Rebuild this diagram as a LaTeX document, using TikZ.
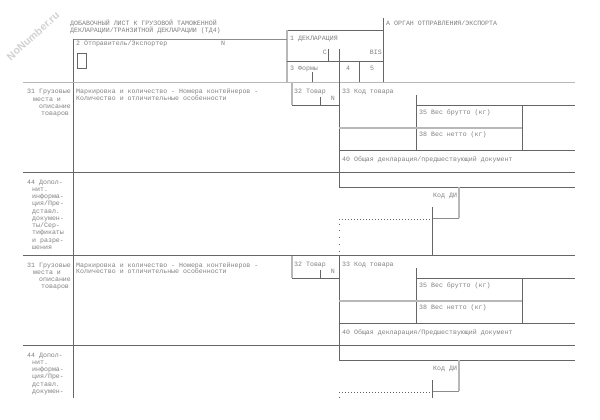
\documentclass[tikz,border=0pt]{standalone}
\usepackage{fontspec}
\setmonofont{Liberation Mono}
\setsansfont{Liberation Sans}
\tikzset{
  ln/.style={draw=black!60, line width=0.5pt},
  lnthick/.style={draw=black!28, line width=1.3pt},
  lnmed/.style={draw=black!45, line width=0.9pt},
  dotline/.style={draw=black!60, line width=0.6pt, dash pattern=on 0.7pt off 2.3pt},
  sparsedot/.style={draw=black!60, line width=0.6pt, dash pattern=on 0.8pt off 6pt},
  lbl/.style={inner sep=0pt, anchor=base west, text=black!50, font=\ttfamily\fontsize{6.6}{7.3}\selectfont},
  lblr/.style={lbl, anchor=base east},
}
\newcommand\myformblock[3]{%
  \draw[lnthick] (292,#1) -- (292,#1+22.5);
  \draw[ln] (292,#1+22.5) -- (339,#1+22.5);
  \draw[ln] (320,#1+14.5) -- (320,#1+22.5);
  \draw[ln] (339,#1) -- (339,#1+104.5) -- (575,#1+104.5);
  \draw[ln] (416,#1+12.5) -- (416,#1+67.5);
  \draw[ln] (416,#1+22.5) -- (575,#1+22.5);
  \draw[lnthick] (339,#1+45.5) -- (522,#1+45.5);
  \draw[ln] (522,#1+22.5) -- (522,#1+67.5);
  \draw[ln] (339,#1+67.5) -- (575,#1+67.5);
  \draw[ln] (23,#1+89.5) -- (575,#1+89.5);
  \draw[lnthick] (459,#1+104.5) -- (459,#1+135.5);
  \draw[lnmed] (432,#1+135.5) -- (459,#1+135.5);
  \draw[ln] (432,#1+124.5) -- (432,#1+173);
  \draw[dotline] (339,#1+136.5) -- (432,#1+136.5);
  \draw[sparsedot] (339,#1+141) -- (339,#1+173);
  \node[lbl] (g31#2) at (27,#1+11.5) {31 Грузовые};
  \node[lbl] (g31a#2) at (33,#1+18.5) {места и};
  \node[lbl] (g31b#2) at (39,#1+25.5) {описание};
  \node[lbl] (g31c#2) at (41,#1+32.5) {товаров};
  \node[lbl] (mk#2) at (76,#1+11.5) {Маркировка и количество - Номера контейнеров -};
  \node[lbl] (mka#2) at (76,#1+18) {Количество и отличительные особенности};
  \node[lbl] (t32#2) at (294,#1+10.8) {32 Товар};
  \node[lblr] (t32n#2) at (335,#1+17.8) {N};
  \node[lbl] (t33#2) at (342,#1+10.8) {33 Код товара};
  \node[lbl] (t35#2) at (419,#1+32.3) {35 Вес брутто (кг)};
  \node[lbl] (t38#2) at (419,#1+54.3) {38 Вес нетто (кг)};
  \node[lbl] (t40#2) at (342,#1+78.5) {#3};
  \node[lbl] (kdi#2) at (433,#1+114.8) {Код ДИ};
  \node[lbl] (t44#2) at (27,#1+101.8) {44 Допол-};
}
\begin{document}
\begin{tikzpicture}[x=1pt,y=-1pt]
\useasboundingbox (0,0) rectangle (600,420);
\node[rotate=42, inner sep=0pt, text=black!18, font=\sffamily\bfseries\fontsize{10.5}{10.5}\selectfont] (wm) at (33,36) {NoNumber.ru};
\begin{scope}
\clip (0,0) rectangle (600,397.5);
% header texts
\node[lbl] (title1) at (70,25.3) {ДОБАВОЧНЫЙ ЛИСТ К ГРУЗОВОЙ ТАМОЖЕННОЙ};
\node[lbl] (title2) at (70,32.3) {ДЕКЛАРАЦИИ/ТРАНЗИТНОЙ ДЕКЛАРАЦИИ (ТД4)};
\node[lbl] (orgA) at (386,25.3) {А ОРГАН ОТПРАВЛЕНИЯ/ЭКСПОРТА};
\node[lbl] (f2) at (76,45.3) {2 Отправитель/Экспортер};
\node[lbl] (f2n) at (221,45.3) {N};
\node[lbl] (f1) at (290,40.3) {1 ДЕКЛАРАЦИЯ};
\node[lblr] (fC) at (327,54.3) {C};
\node[lblr] (fBIS) at (382,54.3) {BIS};
\node[lbl] (f3) at (290,70.3) {3 Формы};
\node[lbl] (f4) at (346,70.3) {4};
\node[lbl] (f5) at (370,70.3) {5};
% header lines
\draw[ln] (383,18) -- (383,82.5);
\draw[ln] (287,30.5) -- (383,30.5);
\draw[lnthick] (287,30.5) -- (287,82.5);
\draw[lnmed] (73,39) -- (287,39);
\draw[ln] (73,39) -- (73,397.5);
\draw[ln] (287,61) -- (383,61);
\draw[ln] (328,49) -- (328,61);
\draw[ln] (339,49) -- (339,82.5);
\draw[ln] (359,61) -- (359,82.5);
\draw[ln] (312,72) -- (312,82.5);
\draw[ln] (77,53) rectangle (86,68);
\draw[lnthick] (23,82.5) -- (575,82.5);
\draw[ln] (23,255.5) -- (575,255.5);
% blocks
\myformblock{82.5}{a}{40 Общая декларация/предшествующий документ}
\myformblock{255.5}{b}{40 Общая декларация/Предшествующий документ}
\node[lbl, align=left, anchor=north west, font=\ttfamily\fontsize{6.6}{7.3}\selectfont] (d44a) at (32,187.5)
  {нит.\\информа-\\ция/Пре-\\дставл.\\докумен-\\ты/Сер-\\тификаты\\и разре-\\шения};
\node[lbl, align=left, anchor=north west, font=\ttfamily\fontsize{6.6}{7.3}\selectfont] (d44b) at (32,360.5)
  {нит.\\информа-\\ция/Пре-\\дставл.\\докумен-};
\end{scope}
\end{tikzpicture}
\end{document}
